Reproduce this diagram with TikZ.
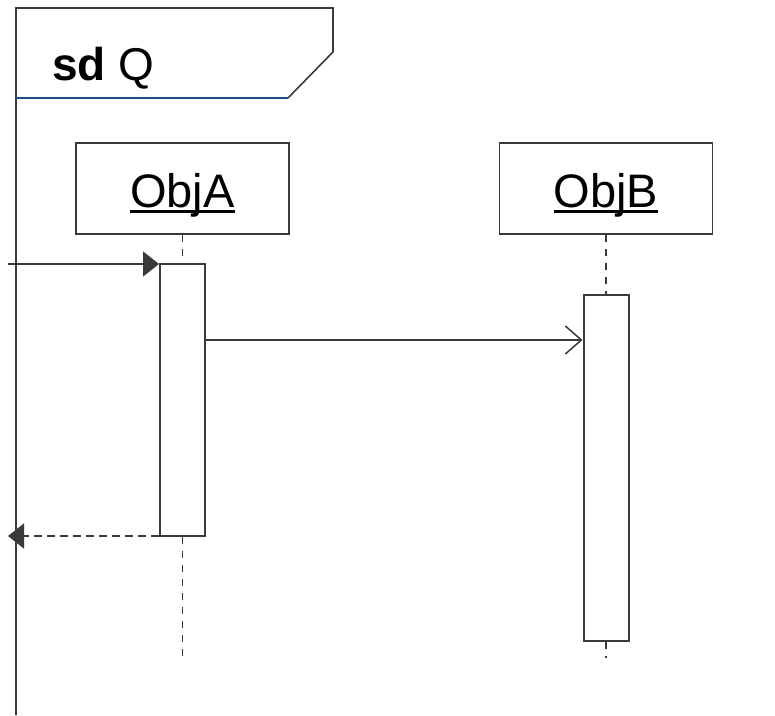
\documentclass[tikz,border=0pt]{standalone}
\usepackage{fontspec}
\setmainfont{Liberation Sans}
\usetikzlibrary{arrows.meta,calc}
\definecolor{ln}{HTML}{3A3A3A}
\definecolor{bl}{HTML}{1F4E79}
\newcommand\ulobj[1]{\setbox0\hbox{#1}\rlap{\rule[-6pt]{\wd0}{3pt}}\box0}
\tikzset{
  objbox/.style={draw=ln, line width=1.6pt, fill=white, minimum width=213pt, minimum height=91pt,
    inner sep=0pt, text height=37pt, text depth=0pt, font=\fontsize{47}{50}\selectfont},
  actbox/.style={draw=ln, line width=2pt, fill=white, minimum width=45pt, inner sep=0pt},
  lifeline/.style={draw=ln, line width=1.6pt, dash pattern=on 7pt off 7pt},
  msgline/.style={draw=ln, line width=1.5pt},
  retline/.style={draw=ln, line width=1.6pt, dash pattern=on 8pt off 5pt},
  fillhead/.style={-{Triangle[length=16pt,width=25pt]}},
  openhead/.style={-{Straight Barb[length=16pt,width=28pt,line width=1.5pt]}},
}
\begin{document}
\begin{tikzpicture}[x=1pt,y=-1pt]
\useasboundingbox (0,0) rectangle (775,715);
% frame
\coordinate (fb) at (16,715);
\coordinate (ftl) at (16,8);
\coordinate (ftr) at (333,8);
\coordinate (fc) at (333,52);
\coordinate (fd) at (288,98);
\coordinate (fl) at (16,98);
\draw[ln, line width=1.6pt] (fb) -- (ftl) -- (ftr) -- (fc) -- (fd);
\draw[bl, line width=1.6pt] (fl) -- (fd);
\node[anchor=base west, inner sep=0pt, font=\fontsize{46}{50}\selectfont] (title) at (52,80) {\textbf{sd} Q};
% objects
\node[objbox] (objA) at (182.5,188.5) {\ulobj{ObjA}};
\node[objbox] (objB) at (606,188.5) {\ulobj{ObjB}};
% activations
\node[actbox, minimum height=272pt] (actA) at (182.5,400) {};
\node[actbox, minimum height=346pt] (actB) at (606,468) {};
% lifeline ends
\coordinate (endA) at (182.5,658);
\coordinate (endB) at (606,658);
\draw[lifeline] (objA.south) -- (actA.north);
\draw[lifeline] (actA.south) -- (endA);
\draw[lifeline] (objB.south) -- (actB.north);
\draw[lifeline] (actB.south) -- (endB);
% messages
\coordinate (inA) at (8,264);
\coordinate (m1) at (0,340);
\coordinate (retEnd) at (8,536);
\draw[msgline, fillhead] (inA) -- (actA.west |- inA);
\draw[msgline, openhead] (actA.east |- m1) -- (actB.west |- m1);
\draw[retline, fillhead] (actA.west |- retEnd) -- (retEnd);
\end{tikzpicture}
\end{document}
